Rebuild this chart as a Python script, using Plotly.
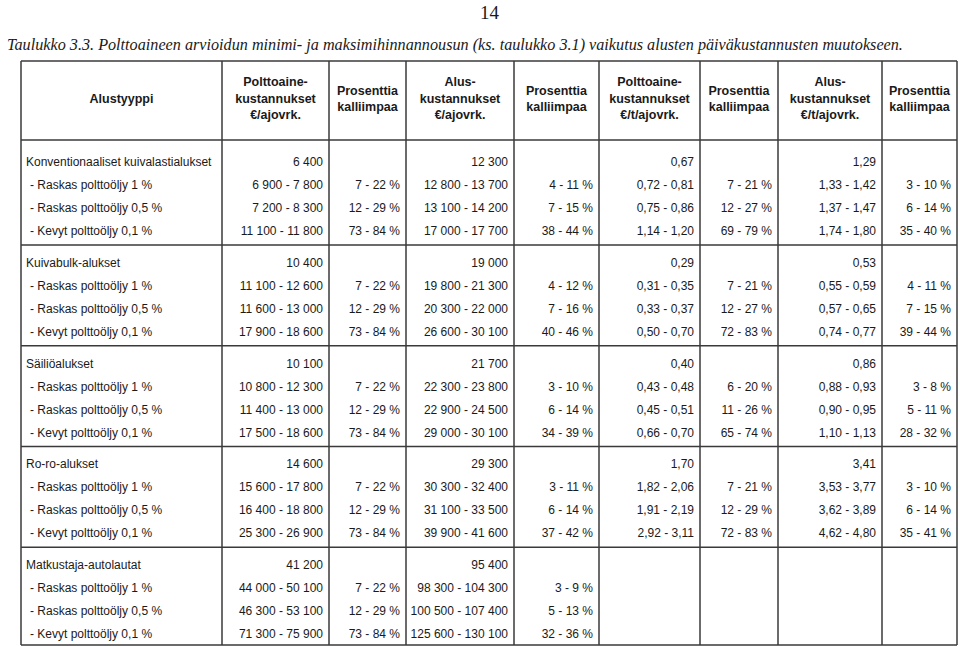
import plotly.graph_objects as go

# sarakkeiden otsikot
otsikot = ["Alustyyppi",
           "Polttoaine-<br>kustannukset<br>€/ajovrk.", "Prosenttia<br>kalliimpaa",
           "Alus-<br>kustannukset<br>€/ajovrk.", "Prosenttia<br>kalliimpaa",
           "Polttoaine-<br>kustannukset<br>€/t/ajovrk.", "Prosenttia<br>kalliimpaa",
           "Alus-<br>kustannukset<br>€/t/ajovrk.", "Prosenttia<br>kalliimpaa"]

alustyypit = ["Konventionaaliset kuivalastialukset", "Kuivabulk-alukset", "Säiliöalukset",
              "Ro-ro-alukset", "Matkustaja-autolautat"]
polttoaineet = ["- Raskas polttoöljy 1 %", "- Raskas polttoöljy 0,5 %", "- Kevyt polttoöljy 0,1 %"]

polt_ajovrk = ["6 400", "6 900 - 7 800", "7 200 - 8 300", "11 100 - 11 800",
               "10 400", "11 100 - 12 600", "11 600 - 13 000", "17 900 - 18 600",
               "10 100", "10 800 - 12 300", "11 400 - 13 000", "17 500 - 18 600",
               "14 600", "15 600 - 17 800", "16 400 - 18 800", "25 300 - 26 900",
               "41 200", "44 000 - 50 100", "46 300 - 53 100", "71 300 - 75 900"]
pros_polt = ["", "7 - 22 %", "12 - 29 %", "73 - 84 %",
             "", "7 - 22 %", "12 - 29 %", "73 - 84 %",
             "", "7 - 22 %", "12 - 29 %", "73 - 84 %",
             "", "7 - 22 %", "12 - 29 %", "73 - 84 %",
             "", "7 - 22 %", "12 - 29 %", "73 - 84 %"]
alus_ajovrk = ["12 300", "12 800 - 13 700", "13 100 - 14 200", "17 000 - 17 700",
               "19 000", "19 800 - 21 300", "20 300 - 22 000", "26 600 - 30 100",
               "21 700", "22 300 - 23 800", "22 900 - 24 500", "29 000 - 30 100",
               "29 300", "30 300 - 32 400", "31 100 - 33 500", "39 900 - 41 600",
               "95 400", "98 300 - 104 300", "100 500 - 107 400", "125 600 - 130 100"]
pros_alus = ["", "4 - 11 %", "7 - 15 %", "38 - 44 %",
             "", "4 - 12 %", "7 - 16 %", "40 - 46 %",
             "", "3 - 10 %", "6 - 14 %", "34 - 39 %",
             "", "3 - 11 %", "6 - 14 %", "37 - 42 %",
             "", "3 - 9 %", "5 - 13 %", "32 - 36 %"]
polt_t = ["0,67", "0,72 - 0,81", "0,75 - 0,86", "1,14 - 1,20",
          "0,29", "0,31 - 0,35", "0,33 - 0,37", "0,50 - 0,70",
          "0,40", "0,43 - 0,48", "0,45 - 0,51", "0,66 - 0,70",
          "1,70", "1,82 - 2,06", "1,91 - 2,19", "2,92 - 3,11",
          "", "", "", ""]
pros_polt_t = ["", "7 - 21 %", "12 - 27 %", "69 - 79 %",
               "", "7 - 21 %", "12 - 27 %", "72 - 83 %",
               "", "6 - 20 %", "11 - 26 %", "65 - 74 %",
               "", "7 - 21 %", "12 - 29 %", "72 - 83 %",
               "", "", "", ""]
alus_t = ["1,29", "1,33 - 1,42", "1,37 - 1,47", "1,74 - 1,80",
          "0,53", "0,55 - 0,59", "0,57 - 0,65", "0,74 - 0,77",
          "0,86", "0,88 - 0,93", "0,90 - 0,95", "1,10 - 1,13",
          "3,41", "3,53 - 3,77", "3,62 - 3,89", "4,62 - 4,80",
          "", "", "", ""]
pros_alus_t = ["", "3 - 10 %", "6 - 14 %", "35 - 40 %",
               "", "4 - 11 %", "7 - 15 %", "39 - 44 %",
               "", "3 - 8 %", "5 - 11 %", "28 - 32 %",
               "", "3 - 10 %", "6 - 14 %", "35 - 41 %",
               "", "", "", ""]

sarakkeet = [polt_ajovrk, pros_polt, alus_ajovrk, pros_alus,
             polt_t, pros_polt_t, alus_t, pros_alus_t]

# asettelu (pikseleinä)
W, H = 960, 646
rajat = [21, 222, 329, 406, 514, 599, 700, 778, 882, 957]
ylä, otsikko_ala, ala = 61, 140, 645
eka_rivi, rivi_väli, ryhmä_väli = 163, 23, 31.75
viiva = "#3a3a3a"
teksti = "#1a1a1a"
runko = "Liberation Sans, Arial, sans-serif"

rivi_y = []
ryhmä_y = []
y = eka_rivi
for g in range(len(alustyypit)):
    ryhmä_y.append(y)
    for r in range(4):
        rivi_y.append(y + r * rivi_väli)
    y = y + 3 * rivi_väli + ryhmä_väli

fig = go.Figure()

# ensimmäinen sarake
nimet = []
nimi_x = []
for g, a in enumerate(alustyypit):
    nimet.append(a)
    nimi_x.append(rajat[0] + 5)
    for p in polttoaineet:
        nimet.append(p)
        nimi_x.append(rajat[0] + 9)
fig.add_trace(go.Scatter(x=nimi_x, y=rivi_y, text=nimet, mode="text",
                         textposition="middle right", hoverinfo="skip",
                         textfont=dict(family=runko, size=12, color=teksti)))

# lukusarakkeet, tasattu oikealle
for i, col in enumerate(sarakkeet):
    oik = rajat[i + 2] - 6
    fig.add_trace(go.Scatter(x=[oik] * len(col), y=rivi_y, text=col, mode="text",
                             textposition="middle left", hoverinfo="skip",
                             textfont=dict(family=runko, size=12, color=teksti)))

# otsikkorivi
kesk = [(rajat[i] + rajat[i + 1]) / 2 for i in range(len(otsikot))]
fig.add_trace(go.Scatter(x=kesk, y=[(ylä + otsikko_ala) / 2 - 1] * len(otsikot),
                         text=["<b>" + o + "</b>" for o in otsikot], mode="text",
                         textposition="middle center", hoverinfo="skip",
                         textfont=dict(family=runko, size=12.5, color=teksti)))

# viivat
viivat = []
for x in rajat:
    viivat.append(dict(type="line", x0=x, x1=x, y0=ylä, y1=ala))
vaaka = [ylä, otsikko_ala, ala]
for g in range(1, len(ryhmä_y)):
    vaaka.append(ryhmä_y[g - 1] + 3 * rivi_väli + 13)
for yv in vaaka:
    viivat.append(dict(type="line", x0=rajat[0], x1=rajat[-1], y0=yv, y1=yv))
for s in viivat:
    s.update(xref="x", yref="y", line=dict(color=viiva, width=1.5))

fig.update_layout(
    width=W, height=H, margin=dict(l=0, r=0, t=0, b=0),
    paper_bgcolor="white", plot_bgcolor="white", showlegend=False,
    xaxis=dict(range=[0, W], visible=False, fixedrange=True),
    yaxis=dict(range=[H, 0], visible=False, fixedrange=True),
    shapes=viivat,
    annotations=[
        dict(x=490, y=12, xref="x", yref="y", text="14", showarrow=False,
             font=dict(family="Liberation Serif, Times New Roman, serif", size=19, color=teksti)),
        dict(x=5, y=45, xref="x", yref="y", xanchor="left",
             text="Taulukko 3.3. Polttoaineen arvioidun minimi- ja maksimihinnannousun "
                  "(ks. taulukko 3.1) vaikutus alusten päiväkustannusten muutokseen.",
             showarrow=False,
             font=dict(family="Liberation Serif, Times New Roman, serif", size=16.2,
                       style="italic", color=teksti)),
    ],
)

fig.write_html("out.html", config={"displayModeBar": False},
               post_script="document.body.style.margin='0';document.body.style.overflow='hidden';")
